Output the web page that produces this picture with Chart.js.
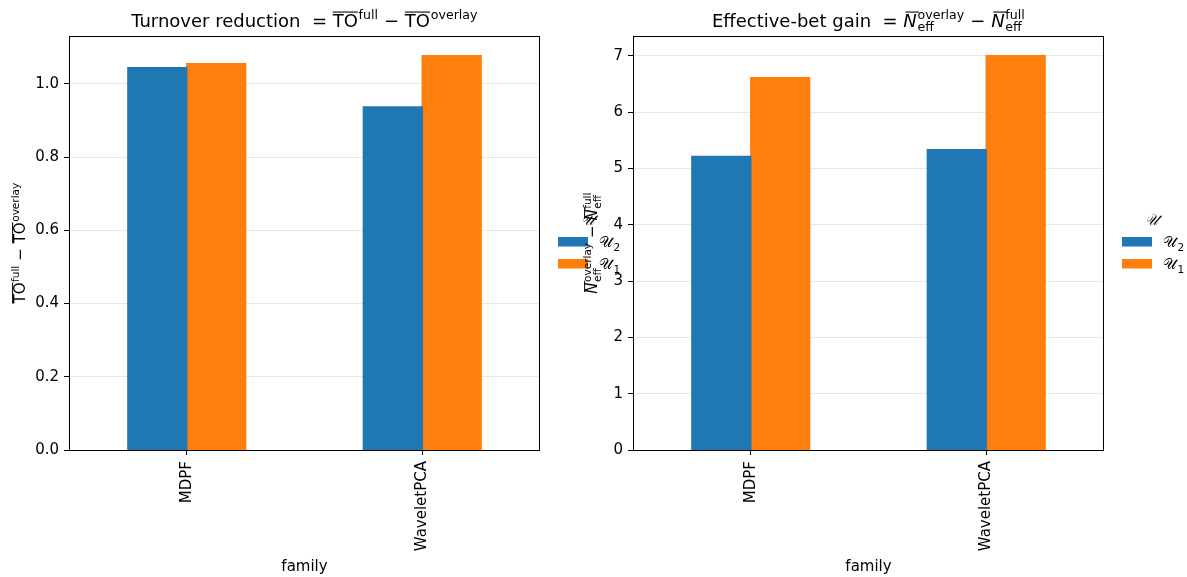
<!DOCTYPE html>
<html><head><meta charset="utf-8">
<script src="https://cdn.jsdelivr.net/npm/chart.js@4"></script>
<style>html,body{margin:0;padding:0;background:#fff;width:1187px;height:577px;overflow:hidden;} canvas{position:absolute;left:0;top:0;}</style>
</head><body>
<canvas id="c1" width="1187" height="577"></canvas>
<canvas id="c2" width="1187" height="577"></canvas>
<script>
const families = ['MDPF', 'WaveletPCA'];
const universeSymbol = '𝒰';
const universeSubs = ['2', '1'];
const turnoverU2 = [1.044, 0.937];
const turnoverU1 = [1.055, 1.077];
const neffU2 = [5.21, 5.33];
const neffU1 = [6.61, 7.00];
const turnoverTickStep = 0.2;
const neffTickStep = 1;
const xAxisLabel = 'family';
const colors = ['#1f77b4', '#ff7f0e'];
const FONT = '"DejaVu Sans", sans-serif';
const TITLE_SIZE = 18;
const LABEL_SIZE = 15;

function fontStr(size, italic){ return (italic ? 'italic ' : '') + size + 'px ' + FONT; }

function layoutParts(ctx, parts, size){
  const small = size * 0.7;
  let w = 0;
  const items = parts.map(p => {
    let width;
    if (p.t !== undefined) { ctx.font = fontStr(size, p.it); width = ctx.measureText(p.t).width; }
    else {
      ctx.font = fontStr(small, false);
      const a = p.sup ? ctx.measureText(p.sup).width : 0;
      const b = p.sub ? ctx.measureText(p.sub).width : 0;
      width = Math.max(a, b) + size * 0.06;
    }
    const it = {p, x: w, width}; w += width; return it;
  });
  return {items, width: w};
}
function drawParts(ctx, parts, size, x0, y0){
  const L = layoutParts(ctx, parts, size);
  const small = size * 0.7;
  ctx.textBaseline = 'alphabetic';
  ctx.textAlign = 'left';
  L.items.forEach(({p, x, width}) => {
    const X = x0 + x;
    if (p.t !== undefined) {
      ctx.font = fontStr(size, p.it);
      ctx.fillText(p.t, X, y0);
      if (p.ol) ctx.fillRect(X + (p.it ? size * 0.12 : 0), y0 - size * 0.86, width, Math.max(1, size * 0.06));
    } else {
      ctx.font = fontStr(small, false);
      if (p.sup) ctx.fillText(p.sup, X + size * 0.04, y0 - size * 0.42);
      if (p.sub) ctx.fillText(p.sub, X + size * 0.04, y0 + size * 0.24);
    }
  });
  return L.width;
}
function drawCentered(ctx, parts, size, cx, y0){
  const w = layoutParts(ctx, parts, size).width;
  drawParts(ctx, parts, size, cx - w / 2, y0);
}

function decoPlugin(cfg){
  return {
    id: 'deco',
    afterDraw(chart){
      const ctx = chart.ctx, a = chart.chartArea;
      ctx.save();
      ctx.fillStyle = '#000';
      ctx.strokeStyle = '#000';
      ctx.lineWidth = 1;
      ctx.strokeRect(Math.round(a.left) + 0.5, Math.round(a.top) + 0.5, Math.round(a.right - a.left) - 1, Math.round(a.bottom - a.top));
      const cx = (a.left + a.right) / 2;
      drawCentered(ctx, cfg.title, TITLE_SIZE, cx, 27);
      ctx.font = fontStr(LABEL_SIZE, false);
      ctx.textAlign = 'center';
      ctx.fillText(xAxisLabel, cx, 571);
      ctx.save();
      ctx.translate(cfg.ylabelX, (a.top + a.bottom) / 2);
      ctx.rotate(-Math.PI / 2);
      drawCentered(ctx, cfg.ylabel, LABEL_SIZE, 0, 0);
      ctx.restore();
      // legend
      const lx = cfg.legendX;
      ctx.font = fontStr(LABEL_SIZE, true);
      ctx.textAlign = 'center';
      ctx.fillText(universeSymbol, lx + 30, 225);
      universeSubs.forEach((s, i) => {
        const y = 237 + i * 22;
        ctx.fillStyle = colors[i];
        ctx.fillRect(lx, y, 30, 9.5);
        ctx.fillStyle = '#000';
        drawParts(ctx, [{t: universeSymbol}, {sub: s}], LABEL_SIZE, lx + 41, y + 10);
      });
      ctx.restore();
    }
  };
}

function makeChart(id, d2, d1, step, pad, cfg){
  const maxV = Math.max(...d2, ...d1) * 1.05;
  return new Chart(document.getElementById(id), {
    type: 'bar',
    data: {
      labels: families,
      datasets: [
        {label: universeSymbol + universeSubs[0], data: d2, backgroundColor: colors[0], borderWidth: 0, inflateAmount: 0.7},
        {label: universeSymbol + universeSubs[1], data: d1, backgroundColor: colors[1], borderWidth: 0, inflateAmount: 0.7}
      ]
    },
    options: {
      responsive: false, animation: false,
      categoryPercentage: 0.5, barPercentage: 1.0,
      layout: {padding: pad},
      plugins: {legend: {display: false}, tooltip: {enabled: false}, title: {display: false}},
      scales: {
        x: {
          grid: {display: true, drawOnChartArea: false, offset: false, tickLength: 5, tickColor: '#000', tickWidth: 1},
          border: {display: false},
          ticks: {color: '#000', font: {family: FONT, size: LABEL_SIZE}, minRotation: 90, maxRotation: 90, padding: 6},
          afterFit(s){ s.height = 127; }
        },
        y: {
          min: 0, max: maxV,
          grid: {color: 'rgba(0,0,0,0.09)', lineWidth: 1, tickLength: 5, tickColor: '#000', tickWidth: 1},
          border: {display: false},
          ticks: {stepSize: step, includeBounds: false, color: '#000', font: {family: FONT, size: LABEL_SIZE}, padding: 5,
            callback: v => step < 1 ? v.toFixed(1) : String(Math.round(v))},
          afterFit(s){ s.width = 40; }
        }
      }
    },
    plugins: [decoPlugin(cfg)]
  });
}

makeChart('c1', turnoverU2, turnoverU1, turnoverTickStep, {left: 29, right: 647, top: 36, bottom: 0}, {
  title: [{t: 'Turnover reduction  = '}, {t: 'TO', ol: true}, {sup: 'full'}, {t: ' − '}, {t: 'TO', ol: true}, {sup: 'overlay'}],
  ylabel: [{t: 'TO', ol: true}, {sup: 'full'}, {t: ' − '}, {t: 'TO', ol: true}, {sup: 'overlay'}],
  ylabelX: 25, legendX: 558
});
makeChart('c2', neffU2, neffU1, neffTickStep, {left: 593, right: 83, top: 36, bottom: 0}, {
  title: [{t: 'Effective-bet gain  = '}, {t: 'N', it: true, ol: true}, {sup: 'overlay', sub: 'eff'}, {t: ' − '}, {t: 'N', it: true, ol: true}, {sup: 'full', sub: 'eff'}],
  ylabel: [{t: 'N', it: true, ol: true}, {sup: 'overlay', sub: 'eff'}, {t: ' − '}, {t: 'N', it: true, ol: true}, {sup: 'full', sub: 'eff'}],
  ylabelX: 597, legendX: 1122
});
</script>
</body></html>
